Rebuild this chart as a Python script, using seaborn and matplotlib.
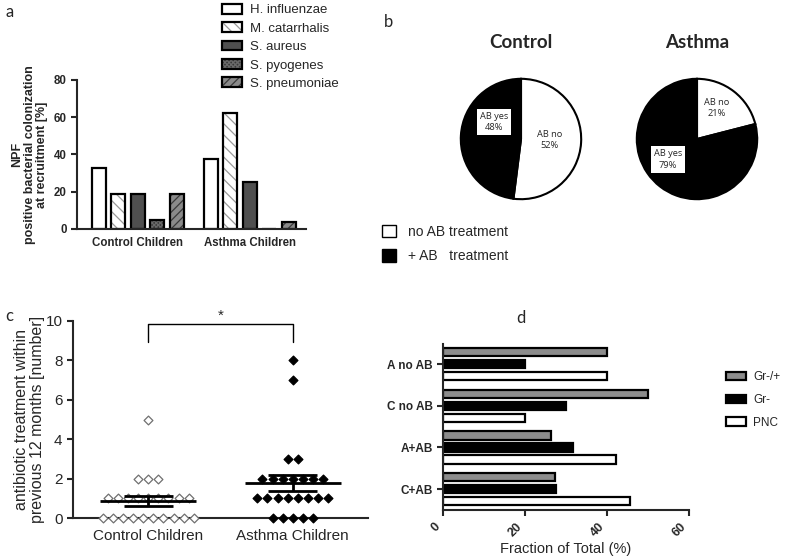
import numpy as np
import pandas as pd
import matplotlib
matplotlib.use("Agg")
import matplotlib.pyplot as plt
from matplotlib.patches import Patch, Rectangle
import seaborn as sns

# panel a - bacterial colonization
groups_a = ["Control Children", "Asthma Children"]
species = ["H. influenzae", "M. catarrhalis", "S. aureus", "S. pyogenes", "S. pneumoniae"]
control_col = [33, 19, 19, 5, 19]
asthma_col = [37.5, 62.5, 25, 0, 4]

# panel b - AB treatment pies
pie_titles = ["Control", "Asthma"]
pie_names = ["AB no", "AB yes"]
control_ab = [52, 48]
asthma_ab = [21, 79]

# panel c - number of antibiotic treatments
groups_c = ["Control Children", "Asthma Children"]
control_counts = [0, 0, 0, 0, 0, 0, 0, 0, 0, 0, 1, 1, 1, 1, 1, 1, 1, 1, 1, 2, 2, 2, 5]
asthma_counts = [0, 0, 0, 0, 0, 1, 1, 1, 1, 1, 1, 1, 1, 2, 2, 2, 2, 2, 2, 2, 3, 3, 7, 8]

# panel d - fraction of total
groups_d = ["A no AB", "C no AB", "A+AB", "C+AB"]
gram = ["Gr-/+", "Gr-", "PNC"]
gr_mixed = [40, 50, 26.4, 27.4]
gr_neg = [20, 30, 31.7, 27.5]
pnc = [40, 20, 42.3, 45.6]

sns.set_theme(style="ticks")
plt.rcParams['font.family'] = ['Liberation Sans', 'DejaVu Sans']
plt.rcParams['axes.linewidth'] = 1.5
plt.rcParams['xtick.major.width'] = 1.5
plt.rcParams['ytick.major.width'] = 1.5
plt.rcParams['hatch.linewidth'] = 0.9

W, H = 787, 558
fig = plt.figure(figsize=(W / 100, H / 100), dpi=100)
fig.patch.set_facecolor('white')

def box(l, t, r, b):
    return [l / W, 1 - b / H, (r - l) / W, (b - t) / H]

# ---------------- panel a ----------------
face_a = {"H. influenzae": "white", "M. catarrhalis": "white", "S. aureus": "#4f4f4f",
          "S. pyogenes": "#3a3a3a", "S. pneumoniae": "#8a8a8a"}
hatch_a = {"H. influenzae": (None, None), "M. catarrhalis": ("\\\\\\", "#9a9a9a"),
           "S. aureus": (None, None), "S. pyogenes": ("xxxxxxxx", "#6a6a6a"),
           "S. pneumoniae": ("////", "#3a3a3a")}

df_a = pd.DataFrame({"group": np.repeat(groups_a, len(species)),
                     "species": species * 2,
                     "value": control_col + asthma_col})
ax_a = fig.add_axes(box(77, 80, 306, 229))
sns.barplot(data=df_a, x="group", y="value", hue="species", hue_order=species,
            palette=face_a, width=0.87, gap=0.28, edgecolor="black", linewidth=1.6,
            errorbar=None, legend=False, ax=ax_a)
for cont, sp in zip(ax_a.containers, species):
    hatch, hcol = hatch_a[sp]
    if hatch:
        for bar in cont:
            bar.set_hatch(hatch)
            bar.set_edgecolor(hcol)
            bar.set_linewidth(0)
            ax_a.add_patch(Rectangle(bar.get_xy(), bar.get_width(), bar.get_height(),
                                     fill=False, ec="black", lw=1.6))
ax_a.set_xlim(-0.54, 1.5)
ax_a.set_ylim(0, 80)
ax_a.set_yticks([0, 20, 40, 60, 80])
sns.despine(ax=ax_a)
ax_a.tick_params(axis='x', length=0, pad=6)
ax_a.tick_params(axis='y', length=4)
for t in ax_a.get_xticklabels() + ax_a.get_yticklabels():
    t.set_fontsize(8.3)
    t.set_fontweight('bold')
ax_a.set_xlabel("")
ax_a.set_ylabel("NPF\npositive bacterial colonization\nat recruitment [%]",
                fontsize=9, fontweight='bold', linespacing=1.05)
ax_a.yaxis.set_label_coords(-0.125, 0.5)

handles_a = []
for sp in species:
    hatch, hcol = hatch_a[sp]
    if hatch:
        handles_a.append((Patch(fc=face_a[sp], ec=hcol, hatch=hatch, lw=0),
                          Patch(fill=False, ec="black", lw=1.6)))
    else:
        handles_a.append(Patch(fc=face_a[sp], ec="black", lw=1.6))
fig.legend(handles_a, species, loc='upper left', bbox_to_anchor=(222 / W, 1 - 4 / H),
           frameon=False, fontsize=9.5, handlelength=1.5, handleheight=0.75,
           labelspacing=0.45, handletextpad=0.6, borderpad=0, borderaxespad=0)

# ---------------- panel b ----------------
label_pos = {"Control": [(0.48, -0.02), (-0.45, 0.28)],
             "Asthma": [(0.33, 0.51), (-0.48, -0.34)]}
for title, vals, cx in zip(pie_titles, [control_ab, asthma_ab], [521, 697]):
    ax = fig.add_axes(box(cx - 62, 139 - 62, cx + 62, 139 + 62))
    ax.pie(vals, colors=['white', 'black'], startangle=90, counterclock=False,
           wedgeprops=dict(edgecolor='black', linewidth=1.5))
    ax.set_xlim(-1.03, 1.03)
    ax.set_ylim(-1.03, 1.03)
    for name, v, (px, py) in zip(pie_names, vals, label_pos[title]):
        ax.text(px, py, f"{name}\n{v}%", ha='center', va='center', fontsize=6.7,
                family='Open Sans', linespacing=1.3,
                bbox=dict(boxstyle='square,pad=0.35', fc='white', ec='none'))
    fig.text(cx / W, 1 - 43 / H, title, ha='center', va='center', fontsize=13.5,
             fontweight='bold', family='Lato')

fig.legend([Patch(fc='white', ec='black', lw=1), Patch(fc='black', ec='black', lw=1)],
           ['no AB treatment', '+ AB   treatment'], loc='center left',
           bbox_to_anchor=(382 / W, 1 - 244 / H), frameon=False, fontsize=10,
           handlelength=1.0, handleheight=1.0, labelspacing=0.75, handletextpad=0.85,
           borderpad=0, borderaxespad=0)

# ---------------- panel c ----------------
ax_c = fig.add_axes(box(73, 321, 368, 518))
step = 0.07
for gi, (vals, fc, ec) in enumerate(zip([control_counts, asthma_counts],
                                        ['white', 'black'], ['#707070', 'black'])):
    vals = np.array(vals)
    xs, ys = [], []
    for v in np.unique(vals):
        n = int((vals == v).sum())
        offs = (np.arange(n) - (n - 1) / 2) * step
        xs.extend(gi + offs)
        ys.extend([v] * n)
    sns.scatterplot(x=xs, y=ys, marker='D', s=20, color=fc, edgecolor=ec,
                    linewidth=0.9, clip_on=False, zorder=3, ax=ax_c)
    mean = vals.mean()
    sem = vals.std(ddof=1) / np.sqrt(len(vals))
    ax_c.hlines(mean, gi - 0.33, gi + 0.33, color='black', lw=2, zorder=4)
    ax_c.hlines([mean - sem, mean + sem], gi - 0.17, gi + 0.17, color='black', lw=2, zorder=4)
    ax_c.vlines(gi, mean - sem, mean + sem, color='black', lw=2, zorder=4)

ax_c.plot([0, 0, 1, 1], [8.95, 9.83, 9.83, 8.95], color='black', lw=1, clip_on=False)
ax_c.text(0.5, 10.25, "*", ha='center', va='center', fontsize=11)
ax_c.set_xlim(-0.52, 1.52)
ax_c.set_ylim(0, 10)
ax_c.set_yticks([0, 2, 4, 6, 8, 10])
ax_c.set_xticks([0, 1])
ax_c.set_xticklabels(groups_c)
sns.despine(ax=ax_c)
ax_c.tick_params(axis='x', length=0, pad=8, labelsize=11)
ax_c.tick_params(axis='y', length=4, labelsize=11)
ax_c.set_ylabel("antibiotic treatment within\nprevious 12 months [number]", fontsize=11.5,
                linespacing=1.05)
ax_c.yaxis.set_label_coords(-0.095, 0.5)

# ---------------- panel d ----------------
df_d = pd.DataFrame({"group": groups_d * 3,
                     "type": np.repeat(gram, len(groups_d)),
                     "value": gr_mixed + gr_neg + pnc})
pal_d = {"Gr-/+": "#8c8c8c", "Gr-": "black", "PNC": "white"}
ax_d = fig.add_axes(box(443, 344, 689, 510))
sns.barplot(data=df_d, y="group", x="value", hue="type", hue_order=gram, order=groups_d,
            palette=pal_d, orient='h', width=0.86, gap=0.3, edgecolor='black',
            linewidth=1.6, errorbar=None, legend=False, ax=ax_d)
ax_d.set_xlim(0, 60)
ax_d.set_ylim(3.5, -0.48)
ax_d.set_xticks([0, 20, 40, 60])
sns.despine(ax=ax_d)
ax_d.tick_params(axis='both', length=4)
for t in ax_d.get_yticklabels():
    t.set_fontsize(8.5)
    t.set_fontweight('bold')
for t in ax_d.get_xticklabels():
    t.set_fontsize(9)
    t.set_fontweight('bold')
    t.set_rotation(45)
    t.set_ha('right')
ax_d.set_ylabel("")
ax_d.set_xlabel("Fraction of Total (%)", fontsize=10.5)
ax_d.xaxis.set_label_coords(0.5, -0.19)

fig.legend([Patch(fc=pal_d[g], ec='black', lw=1.6) for g in gram], gram,
           loc='center left', bbox_to_anchor=(726 / W, 1 - 400 / H), frameon=False,
           fontsize=8.5, handlelength=1.7, handleheight=0.7, labelspacing=0.9,
           handletextpad=0.6, borderpad=0, borderaxespad=0)

# panel letters
for letter, (px, py) in zip("abcd", [(5, 12), (384, 22), (5, 316), (516, 318)]):
    fig.text(px / W, 1 - py / H, letter, ha='left', va='center', fontsize=12, family='Lato')

fig.savefig("out.png", dpi=100, facecolor='white')
